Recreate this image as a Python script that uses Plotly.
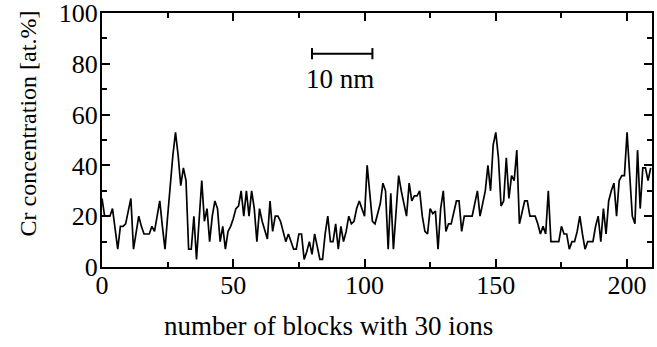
import plotly.graph_objects as go

cr_values = [
    27, 20, 20, 20, 23, 14, 7, 16, 16, 17,
    22, 27, 7, 14, 20, 16, 13, 13, 13, 16,
    14, 20, 26, 16, 7, 20, 34, 44, 53, 44,
    32, 39, 34, 7, 7, 20, 3, 20, 34, 18,
    23, 10, 20, 26, 23, 10, 16, 7, 14, 16,
    19, 23, 24, 30, 20, 30, 20, 30, 23, 10,
    23, 18, 14, 11, 26, 14, 20, 20, 18, 14,
    10, 13, 10, 7, 7, 13, 13, 3, 6, 10,
    5, 13, 8, 3, 3, 13, 20, 10, 10, 17,
    7, 16, 10, 14, 20, 17, 18, 23, 26, 23,
    20, 40, 30, 18, 17, 21, 25, 33, 30, 7,
    29, 7, 21, 36, 30, 25, 20, 33, 26, 28,
    28, 30, 20, 14, 13, 23, 21, 22, 7, 23,
    30, 14, 17, 17, 22, 26, 26, 14, 20, 20,
    20, 20, 25, 30, 20, 25, 30, 40, 30, 48,
    53, 43, 24, 26, 43, 27, 36, 34, 46, 17,
    22, 26, 26, 20, 20, 20, 17, 13, 16, 13,
    30, 10, 10, 10, 10, 16, 13, 13, 7, 10,
    10, 14, 20, 13, 7, 10, 10, 10, 16, 20,
    10, 23, 13, 26, 30, 33, 20, 34, 36, 36,
    53, 36, 20, 17, 46, 23, 39, 39, 34, 39,
]
block_index = list(range(len(cr_values)))

x_ticks = [0, 50, 100, 150, 200]
y_ticks = [0, 20, 40, 60, 80, 100]

x_title = "number of blocks with 30 ions"
y_title = "Cr concentration [at.%]"

scale_bar_x = [80, 103]
scale_bar_y = 84
scale_label = "10 nm"
scale_label_pos = (90.5, 74)

FONT = "Liberation Serif, Times New Roman, serif"

fig = go.Figure()
fig.add_trace(go.Scatter(
    x=block_index, y=cr_values, mode="lines",
    line=dict(color="black", width=1.7), showlegend=False,
))

# scale bar
fig.add_trace(go.Scatter(
    x=scale_bar_x, y=[scale_bar_y, scale_bar_y], mode="lines+markers",
    line=dict(color="black", width=2),
    marker=dict(symbol="line-ns", size=8, line=dict(color="black", width=2)),
    showlegend=False, hoverinfo="skip",
))
fig.add_annotation(x=scale_label_pos[0], y=scale_label_pos[1], text=scale_label,
                   showarrow=False, font=dict(family=FONT, size=27, color="black"))

# axis titles
fig.add_annotation(text=x_title, xref="paper", yref="paper", x=0.4127, y=-0.232,
                   showarrow=False, xanchor="center", yanchor="middle",
                   font=dict(family=FONT, size=27, color="black"))
fig.add_annotation(text=y_title, xref="paper", yref="paper", x=-0.1345, y=0.565,
                   showarrow=False, xanchor="center", yanchor="middle", textangle=-90,
                   font=dict(family=FONT, size=24, color="black"))

axis_common = dict(
    showline=True, linecolor="black", linewidth=2, mirror="ticks",
    ticks="inside", ticklen=8, tickwidth=2, tickcolor="black",
    showgrid=False, zeroline=False, ticklabeloverflow="allow",
    tickfont=dict(family=FONT, size=26, color="black"),
)

fig.update_xaxes(
    range=[0, 209.5], tickvals=x_ticks, ticktext=[str(v) for v in x_ticks],
    minor=dict(dtick=25, tick0=0, ticks="inside", ticklen=5, tickwidth=1.5, tickcolor="black"),
    ticklabelstandoff=-6,
    **axis_common,
)
fig.update_yaxes(
    range=[0, 100], tickvals=y_ticks, ticktext=[str(v) for v in y_ticks],
    minor=dict(dtick=10, tick0=0, ticks="inside", ticklen=5, tickwidth=1.5, tickcolor="black"),
    ticklabelstandoff=-3,
    **axis_common,
)

fig.update_layout(
    width=657, height=347,
    margin=dict(l=102, r=5, t=13, b=80, autoexpand=False),
    plot_bgcolor="white", paper_bgcolor="white",
)

fig.write_html("out.html")
